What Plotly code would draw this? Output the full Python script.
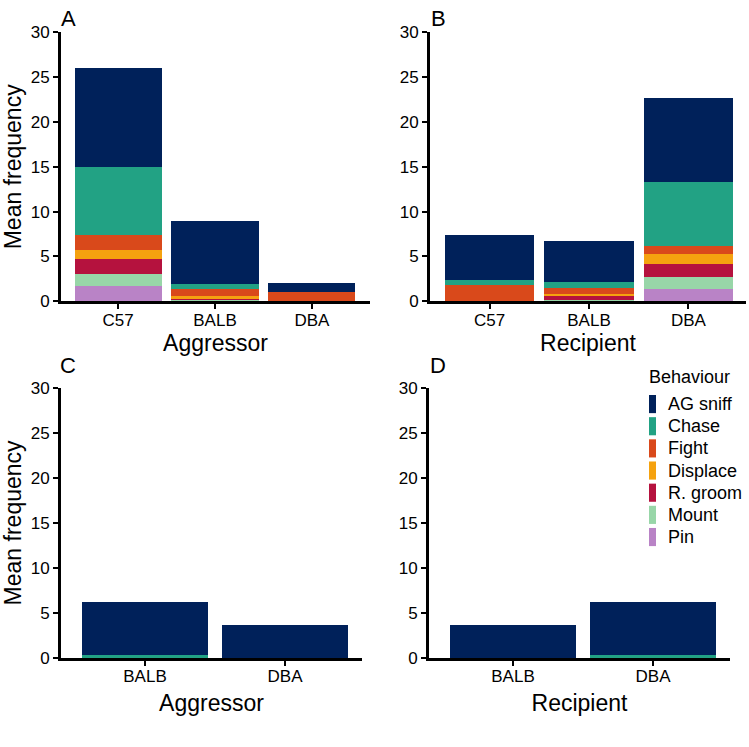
import plotly.graph_objects as go

behaviours = ["Pin", "Mount", "R. groom", "Displace", "Fight", "Chase", "AG sniff"]
legend_order = ["AG sniff", "Chase", "Fight", "Displace", "R. groom", "Mount", "Pin"]
colors = {"AG sniff": "#00215a", "Chase": "#22a284", "Fight": "#d9491b",
          "Displace": "#f5a20f", "R. groom": "#b5123e", "Mount": "#98d6a8", "Pin": "#b983c6"}

cats_top = ["C57", "BALB", "DBA"]
cats_bottom = ["BALB", "DBA"]

# Panel A (aggressor, 3 strains)
A_vals = {"Pin": [1.7, 0.05, 0.0], "Mount": [1.3, 0.1, 0.0], "R. groom": [1.7, 0.15, 0.0],
          "Displace": [1.05, 0.26, 0.0], "Fight": [1.65, 0.84, 1.0],
          "Chase": [7.6, 0.55, 0.0], "AG sniff": [11.0, 7.05, 1.0]}
# Panel B (recipient, 3 strains)
B_vals = {"Pin": [0.0, 0.1, 1.38], "Mount": [0.0, 0.1, 1.32], "R. groom": [0.0, 0.36, 1.42],
          "Displace": [0.0, 0.26, 1.12], "Fight": [1.83, 0.68, 0.96],
          "Chase": [0.53, 0.63, 7.06], "AG sniff": [5.04, 4.57, 9.44]}
# Panel C (aggressor, 2 strains)
C_vals = {"Pin": [0, 0], "Mount": [0, 0], "R. groom": [0, 0], "Displace": [0, 0],
          "Fight": [0, 0], "Chase": [0.3, 0.0], "AG sniff": [5.95, 3.7]}
# Panel D (recipient, 2 strains)
D_vals = {"Pin": [0, 0], "Mount": [0, 0], "R. groom": [0, 0], "Displace": [0, 0],
          "Fight": [0, 0], "Chase": [0.0, 0.3], "AG sniff": [3.7, 5.95]}

W, H = 749, 747

def fx(p):
    return min(1.0, max(0.0, p / W))
def fy(p):
    a = (p - 9.8) / 0.9675
    return min(1.0, max(0.0, 1 - a / H))
def px_x(a, b):
    return [fx(a), fx(b)]
def px_y(top, bottom):
    return [fy(bottom), fy(top)]

panels = [
    ("x", "y", cats_top, A_vals),
    ("x2", "y2", cats_top, B_vals),
    ("x3", "y3", cats_bottom, C_vals),
    ("x4", "y4", cats_bottom, D_vals),
]

fig = go.Figure()
for xa, ya, cats, vals in panels:
    for b in behaviours:
        fig.add_trace(go.Bar(
            x=cats, y=vals[b], name=b, xaxis=xa, yaxis=ya,
            marker=dict(color=colors[b], line=dict(width=0)),
            legendgroup=b, showlegend=False,
        ))

font = "Liberation Sans, Arial, sans-serif"
tickfont = dict(family=font, size=17, color="black")
titlefont = dict(family=font, size=23, color="black")

def xaxis(domain, rng, title, anchor, standoff):
    return dict(domain=domain, range=rng, anchor=anchor, type="category",
                showline=True, linecolor="black", linewidth=3,
                ticks="outside", ticklen=5, tickwidth=2, tickcolor="black",
                ticklabelstandoff=-4,
                tickfont=tickfont, showgrid=False, zeroline=False,
                title=dict(text=title, font=titlefont, standoff=standoff))

def yaxis(domain, anchor, title=None):
    d = dict(domain=domain, range=[0, 30], anchor=anchor,
             showline=True, linecolor="black", linewidth=3,
             ticks="outside", ticklen=5, tickwidth=2, tickcolor="black",
             tickfont=tickfont, showgrid=False, zeroline=False,
             tickvals=[0, 5, 10, 15, 20, 25, 30])
    if title:
        d["title"] = dict(text=title, font=titlefont, standoff=4)
    return d

fig.update_layout(
    width=W, height=H, margin=dict(l=0, r=0, t=0, b=0),
    plot_bgcolor="white", paper_bgcolor="white",
    barmode="stack", bargap=0.1, showlegend=False,
    xaxis=xaxis(px_x(61, 370), [-0.59, 2.6], "Aggressor", "y", 6),
    yaxis=yaxis(px_y(33, 300), "x", "Mean frequency"),
    xaxis2=xaxis(px_x(430, 746), [-0.6, 2.58], "Recipient", "y2", 6),
    yaxis2=yaxis(px_y(33, 300), "x2"),
    xaxis3=xaxis(px_x(61, 362), [-0.6, 1.55], "Aggressor", "y3", 10),
    yaxis3=yaxis(px_y(386, 654), "x3", "Mean frequency"),
    xaxis4=xaxis(px_x(429, 730), [-0.6, 1.55], "Recipient", "y4", 10),
    yaxis4=yaxis(px_y(386, 654), "x4"),
    font=dict(family=font, color="black"),
)

# panel letters
for label, xp, yp in [("A", 68, 19.5), ("B", 438, 19.5), ("C", 68, 364), ("D", 438, 364)]:
    fig.add_annotation(text=label, x=fx(xp), y=fy(yp), xref="paper", yref="paper",
                       showarrow=False, font=dict(family=font, size=22, color="black"),
                       xanchor="center", yanchor="middle")

# legend (drawn as key boxes + labels)
fig.add_annotation(text="Behaviour", x=fx(647), y=fy(375), xref="paper", yref="paper",
                   showarrow=False, font=dict(family=font, size=18, color="black"),
                   xanchor="left", yanchor="middle")
for i, b in enumerate(legend_order):
    yc = 402 + 22 * i
    fig.add_shape(type="rect", xref="paper", yref="paper",
                  x0=fx(649), x1=fx(656), y0=fy(yc + 9), y1=fy(yc - 9),
                  fillcolor=colors[b], line=dict(width=0))
    fig.add_annotation(text=b, x=fx(666), y=fy(yc), xref="paper", yref="paper",
                       showarrow=False, font=dict(family=font, size=18, color="black"),
                       xanchor="left", yanchor="middle")

fig.write_html(
    "out.html",
    config={"displayModeBar": False},
    post_script="document.body.style.margin='0';document.body.style.overflow='hidden';",
)
